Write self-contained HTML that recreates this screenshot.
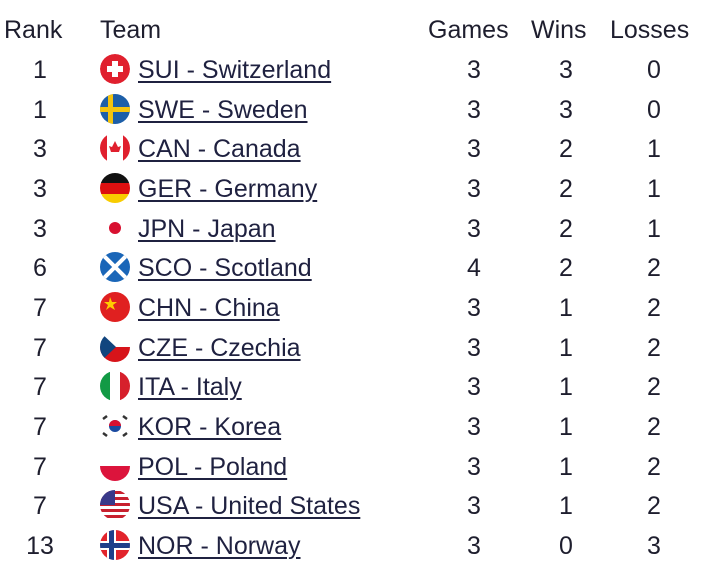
<!DOCTYPE html>
<html><head><meta charset="utf-8"><style>
body{margin:0;width:720px;height:581px;background:#fff;font-family:"Liberation Sans",sans-serif;color:#1e1e2e;position:relative;overflow:hidden}
.c{position:absolute;font-size:25px;line-height:28px;white-space:nowrap}
.r{width:60px;left:10px;text-align:center}
.g{width:60px;left:444px;text-align:center}
.w{width:60px;left:536px;text-align:center}
.l{width:60px;left:624px;text-align:center}
.t{left:138px;text-decoration:underline;text-decoration-thickness:1.5px;text-underline-offset:3px;color:#1f2140}
svg.f{position:absolute;left:99px;width:32px;height:32px}
</style></head><body>
<div class="c" style="left:4px;top:16px">Rank</div>
<div class="c" style="left:100px;top:16px">Team</div>
<div class="c" style="left:428px;top:16px">Games</div>
<div class="c" style="left:531px;top:16px">Wins</div>
<div class="c" style="left:610px;top:16px">Losses</div>
<div id="rows"></div>
<script>
const ranks=[1,1,3,3,3,6,7,7,7,7,7,7,13];
const teams=["SUI - Switzerland","SWE - Sweden","CAN - Canada","GER - Germany","JPN - Japan","SCO - Scotland","CHN - China","CZE - Czechia","ITA - Italy","KOR - Korea","POL - Poland","USA - United States","NOR - Norway"];
const games=[3,3,3,3,3,4,3,3,3,3,3,3,3];
const wins=[3,3,2,2,2,2,1,1,1,1,1,1,0];
const losses=[0,0,1,1,1,2,2,2,2,2,2,2,3];
const flags={
SUI:'<circle cx="16" cy="16" r="15" fill="#e0202e"/><rect x="13" y="8" width="6" height="16" fill="#fff"/><rect x="8" y="13" width="16" height="6" fill="#fff"/>',
SWE:'<rect width="32" height="32" fill="#1d5fa8"/><rect x="9" width="5" height="32" fill="#f4c40f"/><rect y="14" width="32" height="5" fill="#f4c40f"/>',
CAN:'<rect width="32" height="32" fill="#fff"/><rect width="8" height="32" fill="#e0202e"/><rect x="24" width="8" height="32" fill="#e0202e"/><path d="M16 9l3 6 3-1-2 6h-8l-2-6 3 1z" fill="#e0202e"/>',
GER:'<rect width="32" height="11" fill="#111"/><rect y="11" width="32" height="11" fill="#dd1010"/><rect y="22" width="32" height="10" fill="#f8cc00"/>',
JPN:'<rect width="32" height="32" fill="#fff"/><circle cx="16" cy="16" r="6" fill="#d81030"/>',
SCO:'<rect width="32" height="32" fill="#1a66b8"/><path d="M0 0L32 32M32 0L0 32" stroke="#fff" stroke-width="4"/>',
CHN:'<rect width="32" height="32" fill="#e02020"/><polygon points="11,6 13,11 18,11 14,14 16,19 11,16 7,19 9,14 5,11 10,11" fill="#fc0"/>',
CZE:'<rect width="32" height="16" fill="#fff"/><rect y="16" width="32" height="16" fill="#d7141a"/><path d="M0 0L17 16L0 32z" fill="#11457e"/>',
ITA:'<rect width="11" height="32" fill="#129a45"/><rect x="11" width="10" height="32" fill="#fff"/><rect x="21" width="11" height="32" fill="#d6202c"/>',
KOR:'<rect width="32" height="32" fill="#fff"/><circle cx="16" cy="16" r="6" fill="#1a4aa0"/><path d="M10 16a6 6 0 0 1 12 0z" fill="#d81030"/><g stroke="#333" stroke-width="2.5"><path d="M4 9l4-3M24 6l4 3M4 23l4 3M24 26l4-3"/></g>',
POL:'<rect width="32" height="16" fill="#fff"/><rect y="16" width="32" height="16" fill="#dc143c"/>',
USA:'<rect width="32" height="32" fill="#fff"/><g fill="#c8202e"><rect y="2" width="32" height="3"/><rect y="8" width="32" height="3"/><rect y="14" width="32" height="3"/><rect y="20" width="32" height="3"/><rect y="26" width="32" height="3"/></g><rect width="16" height="16" fill="#3a3a8a"/>',
NOR:'<rect width="32" height="32" fill="#e2242c"/><rect x="8" width="9" height="32" fill="#fff"/><rect y="12" width="32" height="9" fill="#fff"/><rect x="10" width="5" height="32" fill="#1f3f8a"/><rect y="14" width="32" height="5" fill="#1f3f8a"/>'
};
const cont=document.getElementById('rows');
teams.forEach((t,i)=>{
  const y=69+i*39.65;
  const row=document.createElement('div');
  
  
  const code=t.slice(0,3);
  const ty=y-13;
  row.innerHTML=
   `<div class="c r" style="top:${ty}px">${ranks[i]}</div>`+
   `<svg class="f" viewBox="0 0 32 32" style="top:${y-16}px"><defs><clipPath id="cp${i}"><circle cx="16" cy="16" r="15"/></clipPath></defs><g clip-path="url(#cp${i})">${flags[code]}</g></svg>`+
   `<a class="c t" style="top:${ty}px">${t}</a>`+
   `<div class="c g" style="top:${ty}px">${games[i]}</div>`+
   `<div class="c w" style="top:${ty}px">${wins[i]}</div>`+
   `<div class="c l" style="top:${ty}px">${losses[i]}</div>`;
  cont.appendChild(row);
  const a=row.querySelector('a');
  
  
  const f=row.querySelector('svg');
  
  
});
</script>
</body></html>
